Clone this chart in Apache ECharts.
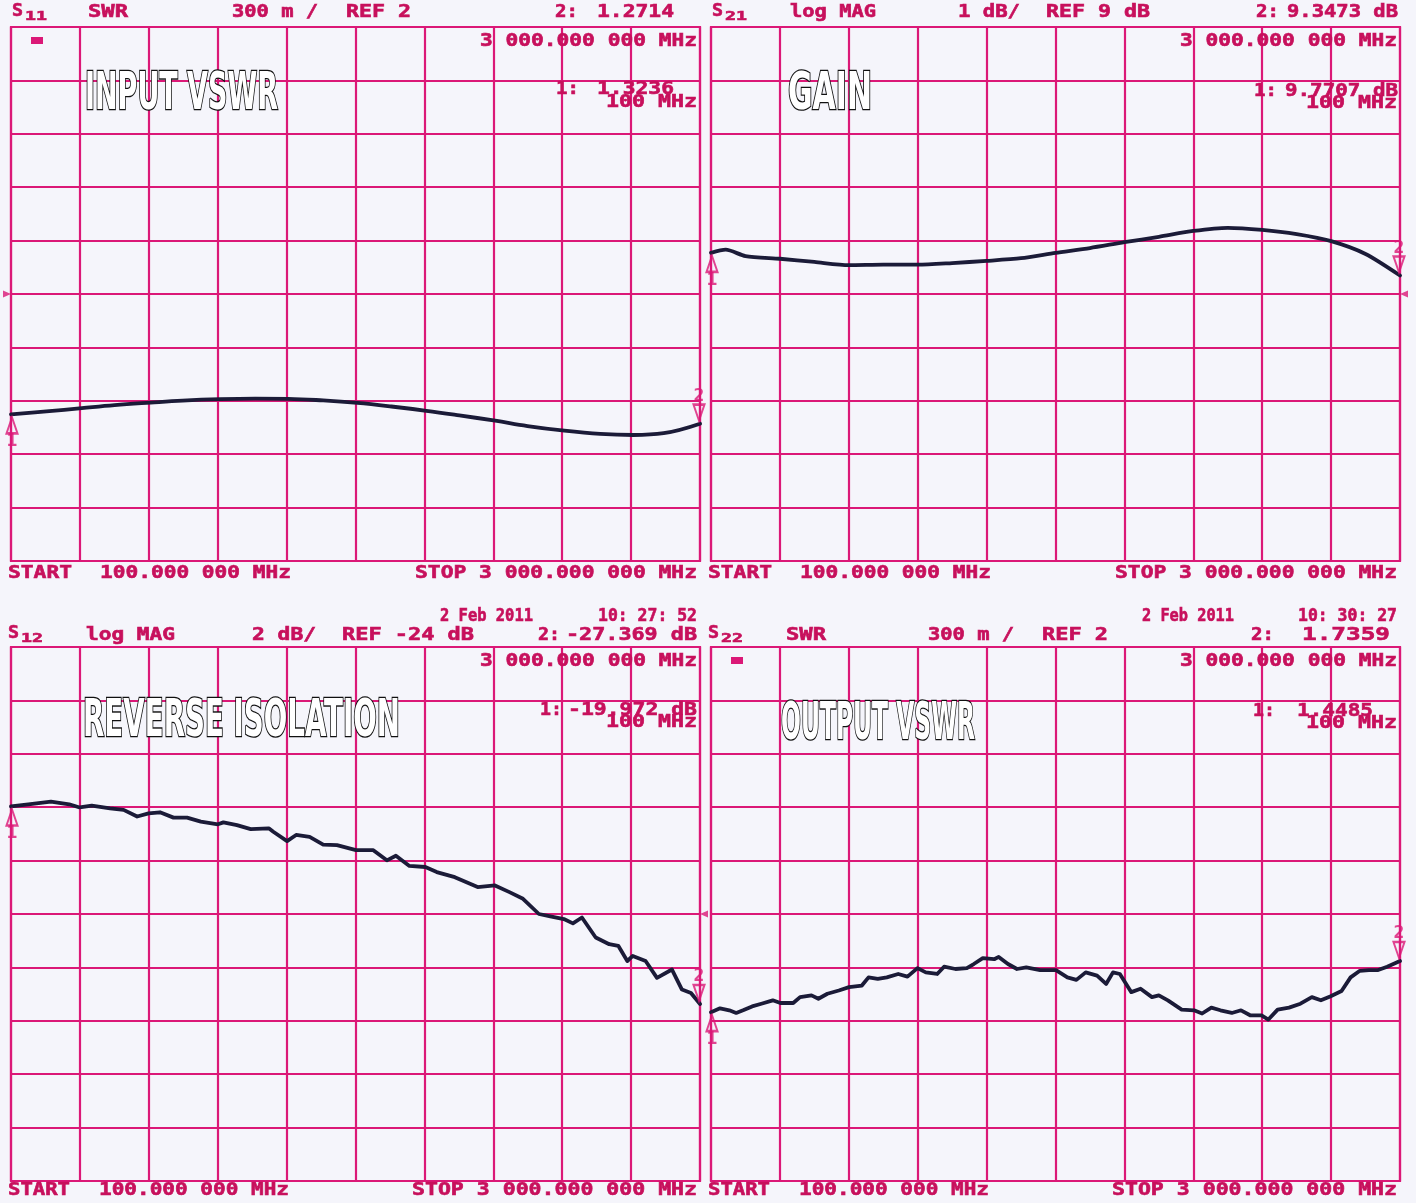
<!DOCTYPE html>
<html><head><meta charset="utf-8">
<script src="https://cdn.jsdelivr.net/npm/echarts@6/dist/echarts.min.js"></script>
<style>html,body{margin:0;padding:0;background:#f4f4fa}#c{width:1416px;height:1203px}</style>
</head><body><div id="c"></div>
<script>
// ---------- DATA ----------
const startMHz = 100, stopMHz = 3000;

// S11 input VSWR
const s11Freq = [100,249,398,536,688,822,981,1128,1267,1414,1558,1701,1848,1987,2138,2274,2429,2580,2719,2847,3000];
const s11Swr  = [1.3236,1.340,1.359,1.376,1.390,1.401,1.409,1.412,1.411,1.402,1.388,1.368,1.344,1.318,1.288,1.258,1.232,1.214,1.208,1.218,1.2714];

// S21 gain (dB)
const s21Freq = [100,162,245,390,535,680,825,970,1115,1260,1405,1550,1695,1840,1985,2130,2275,2420,2565,2710,2855,3000];
const s21Gain = [9.7707,9.83,9.71,9.66,9.60,9.54,9.55,9.55,9.58,9.62,9.67,9.77,9.86,9.97,10.07,10.18,10.24,10.20,10.12,9.99,9.75,9.3473];

// S12 reverse isolation (dB)
const s12Freq = [100,173,268,345,389,440,517,574,631,679,727,784,841,899,971,994,1051,1109,1185,1204,1262,1300,1357,1414,1472,1552,1625,1682,1720,1777,1844,1892,1968,2064,2137,2198,2255,2322,2370,2427,2465,2503,2561,2618,2656,2694,2717,2771,2819,2882,2924,2962,3000];
const s12Db   = [-19.972,-19.89,-19.79,-19.89,-20.01,-19.94,-20.04,-20.10,-20.35,-20.23,-20.19,-20.39,-20.39,-20.54,-20.64,-20.57,-20.67,-20.82,-20.79,-20.92,-21.27,-21.04,-21.11,-21.40,-21.42,-21.61,-21.61,-21.99,-21.82,-22.20,-22.24,-22.43,-22.62,-22.99,-22.93,-23.18,-23.43,-24.00,-24.09,-24.19,-24.35,-24.13,-24.88,-25.13,-25.19,-25.76,-25.57,-25.76,-26.39,-26.08,-26.83,-26.96,-27.369];

// S22 output VSWR
const s22Freq = [100,138,177,206,235,273,312,360,392,446,475,523,552,590,638,681,735,763,802,840,888,927,969,1004,1052,1081,1129,1177,1206,1244,1292,1311,1350,1388,1427,1485,1552,1600,1638,1677,1725,1763,1792,1821,1869,1908,1956,1985,2023,2081,2133,2167,2206,2244,2292,2331,2369,2417,2446,2485,2533,2581,2629,2667,2706,2754,2792,2831,2869,2908,2946,3000];
const s22Swr  = [1.4485,1.470,1.459,1.444,1.459,1.481,1.496,1.515,1.500,1.500,1.533,1.543,1.524,1.552,1.570,1.589,1.598,1.644,1.635,1.644,1.663,1.648,1.696,1.672,1.663,1.704,1.691,1.696,1.719,1.752,1.746,1.759,1.719,1.691,1.700,1.685,1.685,1.644,1.630,1.672,1.654,1.607,1.672,1.663,1.561,1.580,1.533,1.543,1.515,1.463,1.459,1.441,1.474,1.459,1.444,1.459,1.431,1.431,1.407,1.463,1.474,1.496,1.533,1.515,1.537,1.567,1.644,1.681,1.685,1.685,1.704,1.7359];

// reference level (centre line) and scale per division of each display
const refLevel = [2, 9, -24, 2];
const perDiv   = [0.3, 1, 2, 0.3];
const divisions = 10;

// ---------- STYLE / LAYOUT ----------
const MAG = '#db1877', TXT = '#c7105c', TRACE = '#1b1b38', BG = '#f5f5fb';
const pLeft = [11, 711, 11, 711], pTop = [27, 27, 647, 647], pW = 689, pH = 534;
const traces = [[s11Freq, s11Swr], [s21Freq, s21Gain], [s12Freq, s12Db], [s22Freq, s22Swr]];
const smooths = [0.4, 0.25, false, false];
const pointerSide = ['left', 'right', 'right', null];
const spanMHz = stopMHz - startMHz;

const grids = [], xAxes = [], yAxes = [], series = [];
const mkLabel = {show: true, color: MAG, fontWeight: 'bold', fontSize: 18, fontFamily: 'DejaVu Sans Mono', distance: -2};
for (let i = 0; i < 4; i++) {
  grids.push({left: pLeft[i], top: pTop[i], width: pW, height: pH, show: true,
    borderColor: MAG, borderWidth: 2.2, backgroundColor: 'transparent'});
  const sl = {show: true, lineStyle: {color: MAG, width: 2.2}};
  xAxes.push({gridIndex: i, type: 'value', min: 0, max: spanMHz, interval: spanMHz / divisions,
    axisLabel: {show: false}, axisTick: {show: false}, axisLine: {show: false}, splitLine: sl});
  yAxes.push({gridIndex: i, type: 'value', min: -divisions / 2, max: divisions / 2, interval: 1,
    axisLabel: {show: false}, axisTick: {show: false}, axisLine: {show: false}, splitLine: sl});
  const [fr, vv] = traces[i];
  const pts = fr.map((f, k) => [f - startMHz, (vv[k] - refLevel[i]) / perDiv[i]]);
  series.push({type: 'line', xAxisIndex: i, yAxisIndex: i, data: pts, symbol: 'none',
    smooth: smooths[i], silent: true, z: 5,
    lineStyle: {color: TRACE, width: 3.8, join: 'round', cap: 'round'}});
  const first = pts[0], last = pts[pts.length - 1];
  series.push({type: 'scatter', xAxisIndex: i, yAxisIndex: i, silent: true, z: 6,
    data: [{value: first, symbol: 'triangle', symbolSize: [11, 16], symbolOffset: [1, 11],
            label: Object.assign({formatter: '1', position: 'bottom'}, mkLabel)},
           {value: last, symbol: 'triangle', symbolRotate: 180, symbolSize: [11, 16], symbolOffset: [-1, -11],
            label: Object.assign({formatter: '2', position: 'top'}, mkLabel)}],
    itemStyle: {color: 'rgba(255,255,255,0)', borderColor: MAG, borderWidth: 2.2}});
  if (pointerSide[i]) {
    const onLeft = pointerSide[i] === 'left';
    series.push({type: 'scatter', xAxisIndex: i, yAxisIndex: i, silent: true, z: 6,
      data: [[onLeft ? 0 : spanMHz, 0]], symbol: 'triangle', symbolSize: [7, 8],
      symbolRotate: onLeft ? -90 : 90, symbolOffset: [onLeft ? -4 : 4, 0],
      itemStyle: {color: MAG}});
  }
}

// ---------- TEXT ----------
const cvs = document.createElement('canvas').getContext('2d');
const PLOT_FONT = "'DejaVu Sans Mono', monospace";
function txt(s, x, y, w, opt) {
  opt = opt || {};
  const size = opt.size || 17, fam = opt.family || PLOT_FONT, wt = opt.weight || 'bold';
  const align = opt.align || 'left';
  cvs.font = wt + ' ' + size + 'px ' + fam;
  const mw = cvs.measureText(s).width;
  const sx = w ? w / mw : 1;
  return {type: 'text', x: x, y: y, scaleX: sx, scaleY: opt.sy || 1, z: opt.z || 50, silent: true,
    style: {text: s, x: 0, y: 0, fill: opt.fill || TXT, stroke: opt.stroke || TXT, lineWidth: opt.lw == null ? 0.6 : opt.lw,
      fontSize: size, fontFamily: fam, fontWeight: wt,
      align: align, textAlign: align, verticalAlign: 'middle', textVerticalAlign: 'middle'}};
}
function sParam(x, y, sub) {
  return [txt('S', x, y, 11, {size: 17}), txt(sub, x + 13, y + 5, 22, {size: 13})];
}
const BIG = "'Liberation Sans Narrow', 'DejaVu Sans Condensed', 'Arial Narrow', sans-serif";
function big(s, x, y, w) {
  return txt(s, x, y, w, {size: 51, family: BIG, weight: 'bold', fill: '#ffffff', stroke: '#101010', lw: 2.6, z: 60});
}

const G = [];
// --- top left: S11
G.push(...sParam(12, 12, '11'));
G.push(txt('SWR', 88, 13, 40), txt('300 m /', 232, 13, 86), txt('REF 2', 346, 13, 65));
G.push(txt('2:', 555, 13, 23), txt('1.2714', 597, 13, 77));
G.push(txt('3 000.000 000 MHz', 697, 42, 217, {align: 'right'}));
G.push(txt('1:', 556, 90, 23), txt('1.3236', 597, 90, 77));
G.push(txt('100 MHz', 697, 103, 91, {align: 'right'}));
G.push(txt('START', 8, 574, 64), txt('100.000 000 MHz', 100, 574, 191), txt('STOP 3 000.000 000 MHz', 697, 574, 282, {align: 'right'}));
G.push(big('INPUT VSWR', 85, 96, 193));
// --- top right: S21
G.push(...sParam(712, 12, '21'));
G.push(txt('log MAG', 790, 13, 86), txt('1 dB/', 958, 13, 62), txt('REF 9 dB', 1046, 13, 104));
G.push(txt('2:', 1256, 13, 23), txt('9.3473 dB', 1287, 13, 111));
G.push(txt('3 000.000 000 MHz', 1397, 42, 217, {align: 'right'}));
G.push(txt('1:', 1254, 92, 23), txt('9.7707 dB', 1285, 92, 113));
G.push(txt('100 MHz', 1397, 104, 91, {align: 'right'}));
G.push(txt('START', 708, 574, 64), txt('100.000 000 MHz', 800, 574, 191), txt('STOP 3 000.000 000 MHz', 1397, 574, 282, {align: 'right'}));
G.push(big('GAIN', 788, 96, 84));
// --- bottom left: S12
G.push(txt('2 Feb 2011', 440, 617, 93), txt('10: 27: 52', 598, 617, 99));
G.push(...sParam(8, 634, '12'));
G.push(txt('log MAG', 86, 636, 89), txt('2 dB/', 252, 636, 64), txt('REF -24 dB', 342, 636, 132));
G.push(txt('2:', 538, 636, 22), txt('-27.369 dB', 566, 636, 131));
G.push(txt('3 000.000 000 MHz', 697, 662, 217, {align: 'right'}));
G.push(txt('1:', 540, 711, 22), txt('-19.972 dB', 568, 711, 129));
G.push(txt('100 MHz', 697, 723, 91, {align: 'right'}));
G.push(txt('START', 8, 1191, 62), txt('100.000 000 MHz', 99, 1191, 190), txt('STOP 3 000.000 000 MHz', 697, 1191, 285, {align: 'right'}));
G.push(big('REVERSE ISOLATION', 83, 723, 317));
// --- bottom right: S22
G.push(txt('2 Feb 2011', 1142, 617, 92), txt('10: 30: 27', 1298, 617, 99));
G.push(...sParam(708, 634, '22'));
G.push(txt('SWR', 786, 636, 40), txt('300 m /', 928, 636, 86), txt('REF 2', 1042, 636, 66));
G.push(txt('2:', 1251, 636, 23), txt('1.7359', 1302, 636, 88));
G.push(txt('3 000.000 000 MHz', 1397, 662, 217, {align: 'right'}));
G.push(txt('1:', 1253, 712, 22), txt('1.4485', 1297, 712, 76));
G.push(txt('100 MHz', 1397, 724, 91, {align: 'right'}));
G.push(txt('START', 708, 1191, 62), txt('100.000 000 MHz', 799, 1191, 190), txt('STOP 3 000.000 000 MHz', 1397, 1191, 285, {align: 'right'}));
G.push(big('OUTPUT VSWR', 781, 726, 194));
// small "active channel" blocks on SWR displays
G.push({type: 'rect', shape: {x: 31, y: 37, width: 12, height: 7}, style: {fill: MAG}, z: 50, silent: true});
G.push({type: 'rect', shape: {x: 731, y: 657, width: 12, height: 7}, style: {fill: MAG}, z: 50, silent: true});

const chart = echarts.init(document.getElementById('c'), null, {renderer: 'canvas'});
chart.setOption({
  backgroundColor: BG, animation: false,
  grid: grids, xAxis: xAxes, yAxis: yAxes, series: series, graphic: G
});
</script></body></html>
